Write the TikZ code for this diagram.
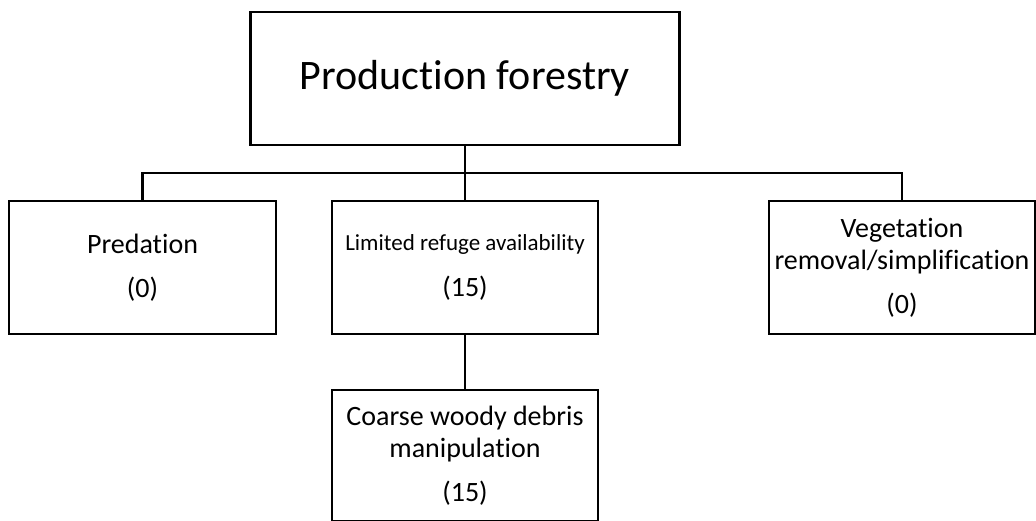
\documentclass[tikz,border=0pt]{standalone}
\usepackage{fontspec}
\setmainfont[Ligatures=NoCommon]{Carlito}
\begin{document}
\begin{tikzpicture}[x=1pt,y=-1pt,
  box/.style={draw, line width=2.2pt, inner sep=0pt, align=center},
  link/.style={line width=2.2pt, line join=miter},
  big/.style={font=\fontsize{42}{50}\selectfont},
  mid/.style={font=\fontsize{28}{32}\selectfont}]
\clip (0,0) rectangle (1036,520);
\useasboundingbox (0,0) rectangle (1036,520);
% root
\node[box, big, minimum width=429pt, minimum height=133pt] (top) at (465,78.5) {Production forestry};
% second level
\node[box, mid, minimum width=267pt, minimum height=133pt] (pred) at (142.5,267.5)
  {Predation\\[12pt](0)};
\node[box, minimum width=266pt, minimum height=133pt] (refuge) at (465,267.5)
  {{\fontsize{23}{27}\selectfont Limited refuge availability}\\[20pt]{\fontsize{28}{32}\selectfont (15)}};
\node[box, mid, minimum width=266pt, minimum height=133pt] (veg) at (902,267.5)
  {Vegetation\\removal/simplification\\[12pt](0)};
% third level
\node[box, mid, minimum width=266pt, minimum height=131pt] (cwd) at (465,455.5)
  {Coarse woody debris\\manipulation\\[12pt](15)};
% connectors
\coordinate (bus) at (465,173);
\draw[link] (top.south) -- (bus);
\draw[link] (pred.north) |- (bus);
\draw[link] (veg.north) |- (bus);
\draw[link] (bus) -- (refuge.north);
\draw[link] (refuge.south) -- (cwd.north);
\end{tikzpicture}
\end{document}
